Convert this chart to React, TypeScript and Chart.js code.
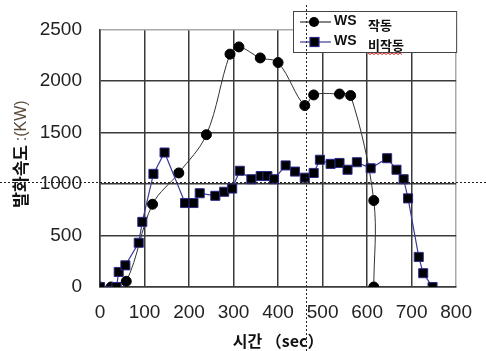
import React, { useEffect, useRef } from "react";
import { Chart, registerables } from "chart.js";

Chart.register(...registerables);

// 작동 (operating) series
const onX = [0, 25, 59, 118, 177, 239, 292, 312, 360, 400, 460, 480, 538, 563, 615, 615];
const onY = [0, 0, 55, 803, 1107, 1478, 2260, 2330, 2223, 2178, 1761, 1864, 1873, 1858, 839, 0];

// 비작동 (not operating) series
const offX = [0, 37, 42, 57, 87, 95, 120, 145, 191, 210, 224, 259, 279, 297, 314, 340, 361, 376, 391, 417, 438, 460, 480, 494, 518, 538, 556, 577, 608, 645, 666, 682, 692, 716, 726, 747];
const offY = [0, 0, 146, 210, 429, 632, 1098, 1305, 815, 815, 910, 885, 924, 955, 1128, 1046, 1077, 1077, 1046, 1180, 1120, 1061, 1107, 1235, 1195, 1204, 1138, 1211, 1152, 1250, 1138, 1046, 860, 292, 134, 0];

const xTicks = [0, 100, 200, 300, 400, 500, 600, 700, 800];
const yTicks = [0, 500, 1000, 1500, 2000, 2500];

const legendLabels = ["작동", "비작동"];
const seriesName = "WS";
const xTitle = "시간 （sec）";
const yTitleMain = "발화속도 ";
const yTitleUnit = ":(KW)";

// crosshair (dotted) reference lines
const crossX = 463;
const crossY = 1020;

const overlay = {
  id: "overlay",
  afterDraw(chart: any) {
    const { ctx, scales, chartArea } = chart;
    const xs = scales.x;
    const ys = scales.y;
    const W = chart.width;
    const H = chart.height;
    ctx.save();

    // axis titles
    ctx.fillStyle = "#111";
    ctx.textBaseline = "alphabetic";
    ctx.textAlign = "center";
    ctx.font = "bold 16px 'Noto Sans CJK KR', 'DejaVu Sans', sans-serif";
    ctx.fillText(xTitle, (chartArea.left + chartArea.right) / 2, H - 4);

    ctx.save();
    ctx.translate(27, 154);
    ctx.rotate(-Math.PI / 2);
    ctx.textAlign = "left";
    ctx.font = "bold 17px 'Noto Sans CJK KR', sans-serif";
    const w1 = ctx.measureText(yTitleMain).width;
    ctx.font = "16px 'Liberation Sans', Arial, sans-serif";
    const w2 = ctx.measureText(yTitleUnit).width;
    const start = -(w1 + w2) / 2;
    ctx.font = "bold 17px 'Noto Sans CJK KR', sans-serif";
    ctx.fillStyle = "#111";
    ctx.fillText(yTitleMain, start, 0);
    ctx.font = "16px 'Liberation Sans', Arial, sans-serif";
    ctx.fillStyle = "#5a4a3a";
    ctx.fillText(yTitleUnit, start + w1, -1);
    ctx.restore();

    // legend box
    const bx = 293, by = 11, bw = chartArea.right - 293, bh = 41;
    ctx.fillStyle = "#fff";
    ctx.fillRect(bx, by, bw, bh);
    ctx.strokeStyle = "#444";
    ctx.lineWidth = 1;
    ctx.strokeRect(bx + 0.5, by + 0.5, bw, bh);

    const rows = [
      { y: by + 11, color: "#333", shape: "circle", label: legendLabels[0] },
      { y: by + 31, color: "#3a3a9a", shape: "rect", label: legendLabels[1] },
    ];
    rows.forEach((r, i) => {
      ctx.strokeStyle = r.color;
      ctx.lineWidth = 1.2;
      ctx.beginPath();
      ctx.moveTo(bx + 7, r.y);
      ctx.lineTo(bx + 38, r.y);
      ctx.stroke();
      ctx.fillStyle = "#000";
      if (r.shape === "circle") {
        ctx.beginPath();
        ctx.arc(bx + 21, r.y, 5, 0, Math.PI * 2);
        ctx.fill();
      } else {
        ctx.fillRect(bx + 17, r.y - 4.5, 9, 9);
        ctx.strokeStyle = "#2a2a8a";
        ctx.strokeRect(bx + 17, r.y - 4.5, 9, 9);
      }
      ctx.fillStyle = "#111";
      ctx.textAlign = "left";
      ctx.textBaseline = "middle";
      ctx.font = "bold 14px 'Liberation Sans', Arial, sans-serif";
      ctx.fillText(seriesName, bx + 41, r.y - 1);
      ctx.font = "bold 13px 'Noto Sans CJK KR', sans-serif";
      ctx.fillText(r.label, bx + 75, r.y + 3);
      if (i === 1) {
        const tw = ctx.measureText(r.label).width;
        ctx.strokeStyle = "#e02020";
        ctx.lineWidth = 1;
        ctx.beginPath();
        const yy = r.y + 11;
        for (let k = 0; k <= tw; k += 2) {
          const px = bx + 75 + k;
          const py = yy + ((k / 2) % 2 === 0 ? 0 : 1.5);
          if (k === 0) ctx.moveTo(px, py);
          else ctx.lineTo(px, py);
        }
        ctx.stroke();
      }
    });

    // dotted crosshair
    ctx.strokeStyle = "#222";
    ctx.lineWidth = 1;
    ctx.setLineDash([2, 2]);
    const py = Math.round(ys.getPixelForValue(crossY)) + 0.5;
    ctx.beginPath();
    ctx.moveTo(0, py);
    ctx.lineTo(W, py);
    ctx.stroke();
    const px = Math.round(xs.getPixelForValue(crossX)) + 0.5;
    ctx.beginPath();
    ctx.moveTo(px, 5);
    ctx.lineTo(px, H);
    ctx.stroke();
    ctx.restore();
  },
};

export default function App() {
  const ref = useRef<HTMLCanvasElement>(null);
  useEffect(() => {
    const gridColor = (c: any) =>
      c.tick && (c.tick.value === 800 || c.tick.value === 2500) ? "#aaa" : "#3a3a3a";
    const chart = new Chart(ref.current as HTMLCanvasElement, {
      type: "line",
      data: {
        datasets: [
          {
            label: seriesName + " " + legendLabels[0],
            data: onX.map((x, i) => ({ x, y: onY[i] })),
            borderColor: "#333",
            borderWidth: 1,
            backgroundColor: "#000",
            pointBackgroundColor: "#000",
            pointBorderColor: "#000",
            pointStyle: "circle",
            pointRadius: 5,
            tension: 0.35,
            order: 2,
          },
          {
            label: seriesName + " " + legendLabels[1],
            data: offX.map((x, i) => ({ x, y: offY[i] })),
            borderColor: "#3a3a9a",
            borderWidth: 1.2,
            backgroundColor: "#000",
            pointBackgroundColor: "#000",
            pointBorderColor: "#2a2a8a",
            pointBorderWidth: 1,
            pointStyle: "rect",
            pointRadius: 6.4,
            tension: 0,
            order: 1,
          },
        ],
      },
      options: {
        animation: false,
        responsive: false,
        maintainAspectRatio: false,
        layout: { padding: { left: 0, right: 23, top: 13, bottom: 0 } },
        plugins: { legend: { display: false }, tooltip: { enabled: false } },
        scales: {
          x: {
            type: "linear",
            min: 0,
            max: 800,
            afterBuildTicks: (s: any) => {
              s.ticks = xTicks.map((v) => ({ value: v }));
            },
            afterFit: (s: any) => {
              s.height = 64;
            },
            grid: { color: gridColor, lineWidth: 1.5, drawTicks: false },
            border: { color: "#3a3a3a", width: 1.5 },
            ticks: {
              padding: 14,
              color: "#222",
              font: { size: 19, family: "'Liberation Sans', Arial, sans-serif" },
              maxRotation: 0,
              callback: (v: any) => String(v),
            },
          },
          y: {
            type: "linear",
            min: 0,
            max: 2500,
            afterBuildTicks: (s: any) => {
              s.ticks = yTicks.map((v) => ({ value: v }));
            },
            afterFit: (s: any) => {
              s.width = 100;
            },
            grid: { color: gridColor, lineWidth: 1.5, drawTicks: false },
            border: { color: "#3a3a3a", width: 1.5 },
            ticks: {
              padding: 18,
              color: "#222",
              font: { size: 19, family: "'Liberation Sans', Arial, sans-serif" },
              callback: (v: any) => String(v),
            },
          },
        },
      },
      plugins: [overlay],
    });
    return () => chart.destroy();
  }, []);
  return (
    <div style={{ position: "absolute", left: 0, top: 0, width: 486, height: 351, background: "#fff" }}>
      <canvas ref={ref} width={486} height={351} style={{ display: "block" }} />
    </div>
  );
}
